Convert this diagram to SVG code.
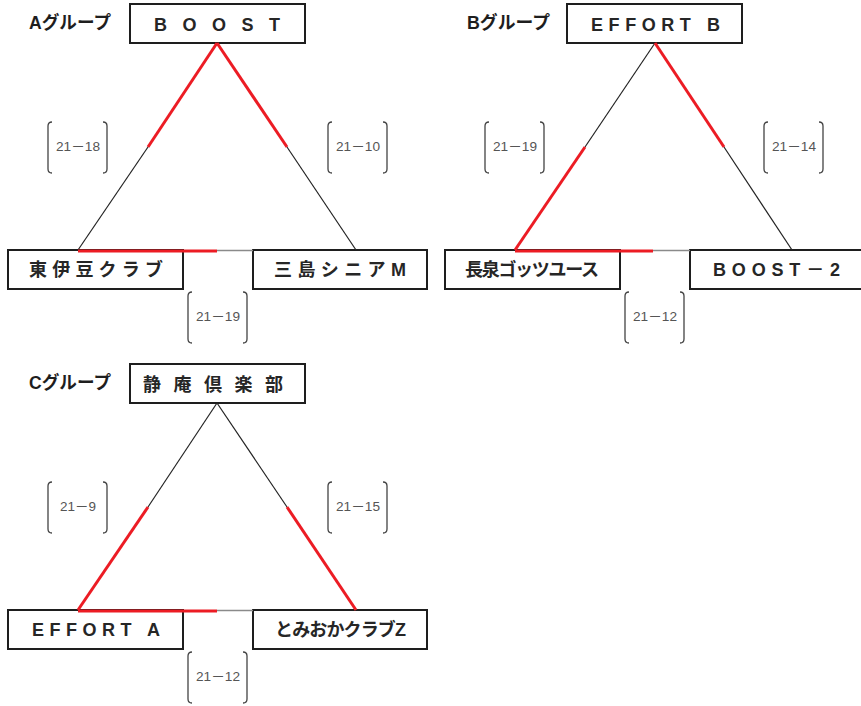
<svg xmlns="http://www.w3.org/2000/svg" width="861" height="706" viewBox="0 0 861 706">
<defs>
<style>
.box{fill:#fff;stroke:#1e1e1e;stroke-width:2}
.nt{font-family:"Liberation Sans","Noto Sans CJK JP",sans-serif;font-weight:bold;font-size:18px;fill:#262626}
.gl{font-family:"Liberation Sans","Noto Sans CJK JP",sans-serif;font-weight:bold;font-size:18px;fill:#1e1e1e}
.blk{stroke:#222;stroke-width:1.2;fill:none}
.red{stroke:#ec1c24;stroke-width:3;fill:none}
.gry{stroke:#8a8a8a;stroke-width:1.5;fill:none}
.br{stroke:#444;stroke-width:1.3;fill:none}
.sc{font-family:"Liberation Sans","Noto Sans CJK JP",sans-serif;font-size:13px;fill:#555}
</style>
<path id="brk" d="M5,0 Q1,0 1,4 V47 Q1,51 5,51 M56,0 Q60,0 60,4 V47 Q60,51 56,51"/>
</defs>
<rect width="861" height="706" fill="#fff"/>

<!-- group labels -->
<text class="gl" x="29" y="29" textLength="82" lengthAdjust="spacingAndGlyphs">Aグループ</text>
<text class="gl" x="467" y="29" textLength="83" lengthAdjust="spacingAndGlyphs">Bグループ</text>
<text class="gl" x="29" y="389" textLength="82" lengthAdjust="spacingAndGlyphs">Cグループ</text>

<!-- Group A nodes -->
<g id="a-boost"><rect class="box" x="130" y="4" width="175" height="39"/><text class="nt" x="154" y="31" textLength="126" lengthAdjust="spacing">BOOST</text></g>
<g id="a-higashiizu"><rect class="box" x="8" y="250" width="175" height="39"/><text class="nt" x="29" y="276" textLength="134" lengthAdjust="spacing">東伊豆クラブ</text></g>
<g id="a-mishima"><rect class="box" x="253" y="250" width="174" height="39"/><text class="nt" x="274" y="276" textLength="132" lengthAdjust="spacing">三島シニアM</text></g>

<!-- Group B nodes -->
<g id="b-effortb"><rect class="box" x="567" y="4" width="175" height="39"/><text class="nt" x="591" y="31" textLength="129" lengthAdjust="spacing">EFFORT B</text></g>
<g id="b-nagaizumi"><rect class="box" x="445" y="250" width="175" height="39"/><text class="nt" x="465" y="276" textLength="134" lengthAdjust="spacing">長泉ゴッツユース</text></g>
<g id="b-boost2"><rect class="box" x="690" y="250" width="175" height="39"/><text class="nt" x="713" y="276" textLength="127" lengthAdjust="spacing">BOOST－2</text></g>

<!-- Group C nodes -->
<g id="c-seian"><rect class="box" x="130" y="364" width="175" height="39"/><text class="nt" x="143" y="391" textLength="140" lengthAdjust="spacing">静庵倶楽部</text></g>
<g id="c-efforta"><rect class="box" x="8" y="610" width="175" height="39"/><text class="nt" x="32" y="636" textLength="128" lengthAdjust="spacing">EFFORT A</text></g>
<g id="c-tomioka"><rect class="box" x="253" y="610" width="174" height="39"/><text class="nt" x="275" y="636" textLength="131" lengthAdjust="spacing">とみおかクラブZ</text></g>

<!-- connectors -->
<g id="connectors">
<!-- A -->
<line class="red" x1="217" y1="43" x2="148" y2="147"/>
<line class="blk" x1="148" y1="147" x2="78" y2="250"/>
<line class="red" x1="217" y1="43" x2="287" y2="147"/>
<line class="blk" x1="287" y1="147" x2="356" y2="250"/>
<line class="gry" x1="217" y1="250.5" x2="253" y2="250.5"/>
<line class="red" x1="78" y1="251" x2="217" y2="251"/>
<!-- B -->
<line class="blk" x1="655" y1="43" x2="585" y2="147"/>
<line class="red" x1="585" y1="147" x2="515" y2="250"/>
<line class="red" x1="655" y1="43" x2="724" y2="147"/>
<line class="blk" x1="724" y1="147" x2="792" y2="250"/>
<line class="gry" x1="653" y1="250.5" x2="690" y2="250.5"/>
<line class="red" x1="515" y1="251" x2="653" y2="251"/>
<!-- C -->
<line class="blk" x1="217" y1="403" x2="148" y2="507"/>
<line class="red" x1="148" y1="507" x2="78" y2="610"/>
<line class="blk" x1="217" y1="403" x2="287" y2="507"/>
<line class="red" x1="287" y1="507" x2="356" y2="610"/>
<line class="gry" x1="217" y1="610.5" x2="253" y2="610.5"/>
<line class="red" x1="78" y1="611" x2="217" y2="611"/>
</g>

<!-- scores -->
<g id="scores">
<use href="#brk" class="br" x="47" y="122"/><text class="sc" x="78" y="151" text-anchor="middle" textLength="44" lengthAdjust="spacingAndGlyphs">21－18</text>
<use href="#brk" class="br" x="327" y="122"/><text class="sc" x="358" y="151" text-anchor="middle" textLength="44" lengthAdjust="spacingAndGlyphs">21－10</text>
<use href="#brk" class="br" x="187" y="292"/><text class="sc" x="218" y="321" text-anchor="middle" textLength="44" lengthAdjust="spacingAndGlyphs">21－19</text>

<use href="#brk" class="br" x="484" y="122"/><text class="sc" x="515" y="151" text-anchor="middle" textLength="44" lengthAdjust="spacingAndGlyphs">21－19</text>
<use href="#brk" class="br" x="763" y="122"/><text class="sc" x="794" y="151" text-anchor="middle" textLength="44" lengthAdjust="spacingAndGlyphs">21－14</text>
<use href="#brk" class="br" x="624" y="292"/><text class="sc" x="655" y="321" text-anchor="middle" textLength="44" lengthAdjust="spacingAndGlyphs">21－12</text>

<use href="#brk" class="br" x="47" y="482"/><text class="sc" x="78" y="511" text-anchor="middle" textLength="36" lengthAdjust="spacingAndGlyphs">21－9</text>
<use href="#brk" class="br" x="327" y="482"/><text class="sc" x="358" y="511" text-anchor="middle" textLength="44" lengthAdjust="spacingAndGlyphs">21－15</text>
<use href="#brk" class="br" x="187" y="652"/><text class="sc" x="218" y="681" text-anchor="middle" textLength="44" lengthAdjust="spacingAndGlyphs">21－12</text>
</g>
</svg>
